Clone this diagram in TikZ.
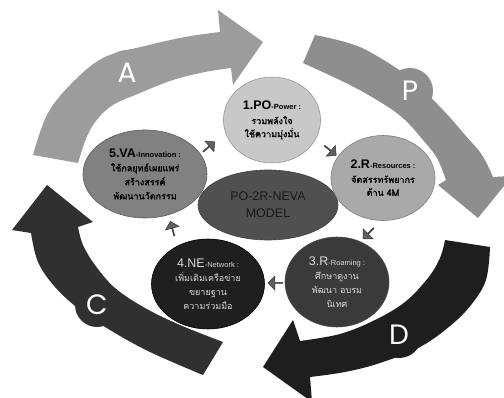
\documentclass[tikz,border=0pt]{standalone}
\usepackage{fontspec}
\setmainfont{Liberation Sans}
\newfontfamily\thaif[Script=Thai, AutoFakeBold=1.5]{Loma}
\newfontfamily\lblfont{Poppins}
\usetikzlibrary{shapes.geometric,shapes.arrows}
\definecolor{cA}{HTML}{9C9C9C}
\definecolor{cP}{HTML}{8E8E8E}
\definecolor{cD}{HTML}{1E1E1E}
\definecolor{cC}{HTML}{303030}
\definecolor{eOne}{HTML}{C8C8C8}
\definecolor{eTwo}{HTML}{A9A9A9}
\definecolor{eThree}{HTML}{3A3A3A}
\definecolor{eFour}{HTML}{1F1F1F}
\definecolor{eFive}{HTML}{818181}
\definecolor{eMid}{HTML}{505050}
\definecolor{midTxt}{HTML}{1A1A1A}
\definecolor{txtLight}{HTML}{DADADA}
\newcommand\TtlBig{\fontsize{12.5}{14}\selectfont\bfseries}
\newcommand\TtlSmall{\fontsize{7.5}{8}\selectfont\bfseries}
\newcommand\TtlBigL{\fontsize{12.5}{14}\selectfont}
\newcommand\TtlSmallL{\fontsize{7.5}{8}\selectfont}
\newcommand\ThLine{\thaif\fontsize{9}{10}\selectfont\bfseries}
\newcommand\ThLineL{\thaif\fontsize{9}{10}\selectfont}
\begin{document}
\begin{tikzpicture}[x=1pt,y=-1pt,
  oval/.style={ellipse, inner sep=0pt, align=center, line width=0.6pt},
  sarr/.style={single arrow, fill=gray!75!black, draw=gray!40!black, line width=0.5pt,
     minimum height=15pt, minimum width=14pt, single arrow head extend=3pt, inner sep=0pt},
  biglbl/.style={font=\lblfont\fontsize{28}{30}\selectfont, text=white, inner sep=0pt}
]
\useasboundingbox (0,0) rectangle (504,398);
\fill[white] (0,0) rectangle (504,398);

% ---- ellipses ----
\node[oval, fill=eOne, draw=eOne!75!black, minimum width=97pt, minimum height=86pt] (e1) at (272,120)
  {{\TtlBig 1.PO}{\TtlSmall -Power :}\\[3pt]
   {\ThLine รวมพลังใจ}\\[1pt]
   {\ThLine ใช้ความมุ่งมั่น}};

\node[oval, fill=eMid, draw=eMid!80!black, minimum width=140pt, minimum height=70pt,
      text=midTxt] (mid) at (268,205)
  {{\fontsize{12.5}{14}\selectfont PO-2R-NEVA}\\[5pt]{\fontsize{12.5}{14}\selectfont MODEL}};

\node[oval, fill=eTwo, draw=eTwo!75!black, minimum width=104pt, minimum height=85pt] (e2) at (383,178)
  {{\TtlBig 2.R}{\TtlSmall -Resources :}\\[2pt]
   {\ThLine จัดสรรทรัพยากร}\\[1pt]
   {\ThLine ด้าน 4M}};

\node[oval, fill=eThree, draw=black!70, minimum width=104pt, minimum height=90pt, text=txtLight] (e3) at (337,282)
  {{\TtlBigL 3.R}{\TtlSmallL -Roaming :}\\[2pt]
   {\ThLineL ศึกษาดูงาน}\\[2pt]
   {\ThLineL พัฒนา อบรม}\\[2pt]
   {\ThLineL นิเทศ}};

\node[oval, fill=eFour, draw=black, minimum width=113pt, minimum height=90pt, text=txtLight] (e4) at (208,284)
  {{\TtlBigL 4.NE}{\TtlSmallL -Network :}\\[2pt]
   {\ThLineL เพิ่มเติมเครือข่าย}\\[2pt]
   {\ThLineL ขยายฐาน}\\[2pt]
   {\ThLineL ความร่วมมือ}};

\node[oval, fill=eFive, draw=eFive!70!black, minimum width=124pt, minimum height=88pt] (e5) at (145,174)
  {{\TtlBig 5.VA}{\TtlSmall -Innovation :}\\[2pt]
   {\ThLine ใช้กลยุทธ์เผยแพร่}\\[2pt]
   {\ThLine สร้างสรรค์}\\[2pt]
   {\ThLine พัฒนานวัตกรรม}};

% ---- big arrow A ----
\fill[cA] plot[smooth, tension=0.6] coordinates {(33,155) (48,113) (75,80) (105,57) (145,46) (185,37) (220,32)}
  -- (218,10) -- (263,42) -- (233,85) -- (231,68)
  -- plot[smooth, tension=0.6] coordinates {(231,68) (205,72) (173,80) (140,93) (110,107) (90,130) (78,163)} -- cycle;
\fill[cA] (127,73) circle[radius=23];
\node[biglbl] (la) at (127,73) {A};

% ---- big arrow P ----
\fill[cP] plot[smooth, tension=0.6] coordinates {(315,35) (345,42) (370,52) (410,78) (443,110) (465,135) (482,155) (493,177)}
  -- (512,176) -- (478,218) -- (438,185) -- (446,180)
  -- plot[smooth, tension=0.6] coordinates {(446,180) (437,158) (423,140) (405,120) (385,105) (350,85) (303,63)} -- cycle;
\fill[cP] (410,91) circle[radius=23];
\node[biglbl] (lp) at (410,91) {P};

% ---- big arrow D ----
\fill[cD] plot[smooth, tension=0.6] coordinates {(490,247) (486,280) (471,305) (450,326) (420,347) (380,363) (345,372) (310,377)}
  -- (312,402) -- (263,367) -- (293,320) -- (300,341)
  -- plot[smooth, tension=0.6] coordinates {(300,341) (340,334) (375,320) (405,302) (428,278) (440,258) (445,240)} -- cycle;
\fill[cD] (399,335) circle[radius=23];
\node[biglbl] (ld) at (399,335) {D};

% ---- big arrow C ----
\fill[cC] plot[smooth, tension=0.6] coordinates {(31,233) (38,262) (55,287) (80,310) (110,330) (150,352) (203,375)}
  -- (223,342)
  -- plot[smooth, tension=0.6] coordinates {(223,342) (180,325) (145,308) (115,288) (95,265) (83,245) (78,227)}
  -- (93,222) -- (47,185) -- (12,230) -- cycle;
\fill[cC] (97,305) circle[radius=22];
\node[biglbl] (lc) at (97,305) {C};

% ---- small arrows between steps ----
\path (e5) -- node[sarr, pos=0.35, rotate=40] (s51) {} (e1);
\path (e1) -- node[sarr, pos=0.65, rotate=-40] (s12) {} (e2);
\path (e2) -- node[sarr, pos=0.7, xshift=10pt, rotate=-135] (s23) {} (e3);
\path (e3) -- node[sarr, pos=0.45, rotate=180] (s34) {} (e4);
\path (e4) -- node[sarr, pos=0.5, xshift=-4pt, rotate=105] (s45) {} (e5);
\end{tikzpicture}
\end{document}
